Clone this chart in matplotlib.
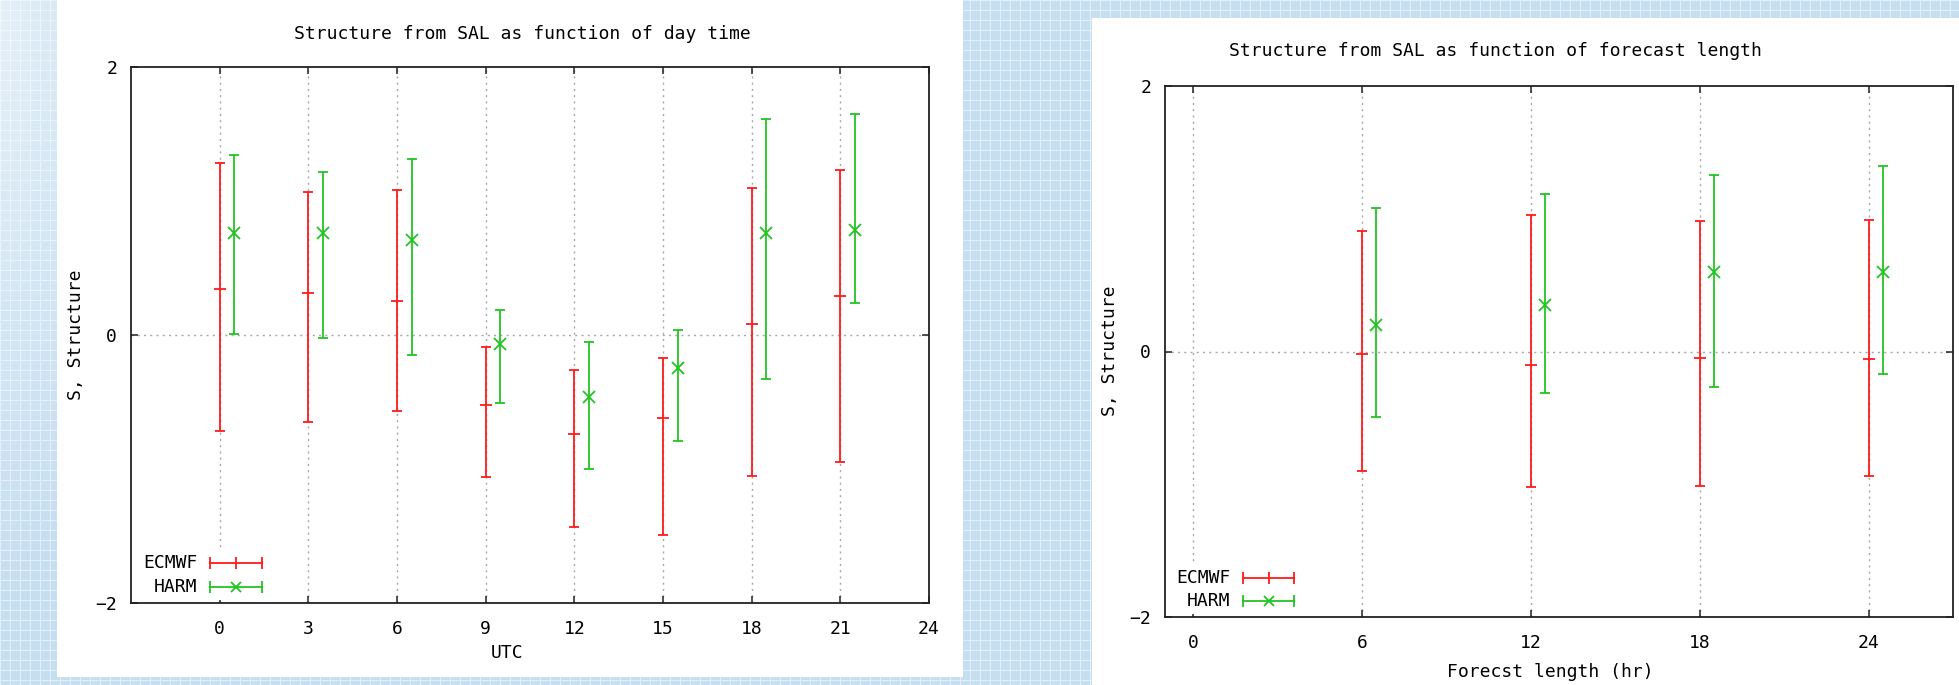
"""
Structure component of SAL: day-time and forecast-length panels
(gnuplot-style look, two white canvases on a tiled blue page)
"""

import numpy as np
import matplotlib
matplotlib.use("Agg")
import matplotlib.pyplot as plt
from matplotlib.patches import Rectangle

# =============================================================================
# DATA
# =============================================================================

utc_hours = [0, 3, 6, 9, 12, 15, 18, 21]
ecmwf_day_mean = [0.34, 0.31, 0.25, -0.52, -0.74, -0.62, 0.08, 0.29]
ecmwf_day_lo   = [-0.72, -0.65, -0.57, -1.06, -1.43, -1.49, -1.05, -0.95]
ecmwf_day_hi   = [1.28, 1.07, 1.08, -0.09, -0.26, -0.17, 1.10, 1.23]
harm_day_mean  = [0.76, 0.76, 0.71, -0.07, -0.46, -0.25, 0.76, 0.78]
harm_day_lo    = [0.01, -0.02, -0.15, -0.51, -1.00, -0.79, -0.33, 0.24]
harm_day_hi    = [1.34, 1.22, 1.31, 0.19, -0.05, 0.04, 1.61, 1.65]

lead_hours = [6, 12, 18, 24]
ecmwf_fc_mean = [-0.02, -0.10, -0.05, -0.06]
ecmwf_fc_lo   = [-0.90, -1.02, -1.01, -0.94]
ecmwf_fc_hi   = [0.91, 1.03, 0.98, 0.99]
harm_fc_mean  = [0.20, 0.35, 0.60, 0.60]
harm_fc_lo    = [-0.49, -0.31, -0.27, -0.17]
harm_fc_hi    = [1.08, 1.19, 1.33, 1.40]

day_ticks = [0, 3, 6, 9, 12, 15, 18, 21, 24]
lead_ticks = [0, 6, 12, 18, 24]
y_ticks = [-2, 0, 2]

# =============================================================================
# STYLE
# =============================================================================

W, H = 1959, 685
FONT = "DejaVu Sans Mono"
FS = 13
RED = "#ff1a1a"
GREEN = "#22c422"
GRID = "#a8a8a8"
HARM_SHIFT = 0.5   # HARM plotted half a unit right of ECMWF

plt.rcParams["font.family"] = FONT


def px(x, y):
    """pixel (from top-left) -> figure fraction"""
    return x / W, 1 - y / H


def ax_rect(x0, y0, x1, y1):
    return [x0 / W, 1 - y1 / H, (x1 - x0) / W, (y1 - y0) / H]


def draw_series(ax, x, mean, lo, hi, color, marker, ms):
    mean = np.asarray(mean)
    yerr = [mean - np.asarray(lo), np.asarray(hi) - mean]
    ax.errorbar(x, mean, yerr=yerr, fmt=marker, color=color, ecolor=color,
                elinewidth=1.3, capsize=3.5, capthick=1.3,
                markersize=ms, markeredgewidth=1.3, zorder=5)


def draw_key(ax):
    # white box hides grid under the key, like gnuplot
    ax.add_patch(Rectangle((0.008, 0.006), 0.17, 0.094, transform=ax.transAxes,
                           facecolor="white", edgecolor="none", zorder=3))
    rows = [("ECMWF", RED, "|", 0.074), ("HARM", GREEN, "x", 0.030)]
    for label, color, marker, yy in rows:
        ax.text(0.083, yy, label, transform=ax.transAxes, ha="right",
                va="center", fontsize=FS, zorder=6)
        ax.plot([0.099, 0.164], [yy, yy], transform=ax.transAxes,
                color=color, lw=1.3, zorder=6, clip_on=False)
        ax.plot([0.099, 0.164], [yy, yy], transform=ax.transAxes, ls="none",
                marker="|", ms=8, mew=1.3, color=color, zorder=6)
        ax.plot([0.1315], [yy], transform=ax.transAxes, ls="none",
                marker=marker, ms=8 if marker == "|" else 7, mew=1.3,
                color=color, zorder=6)


def style_axes(ax, xlim, xticks):
    ax.set_xlim(*xlim)
    ax.set_ylim(-2, 2)
    ax.set_xticks(xticks)
    ax.set_yticks(y_ticks)
    ax.set_yticklabels([f"{v:d}".replace("-", "\u2212") for v in y_ticks])
    ax.tick_params(direction="in", length=5, width=1.1, labelsize=FS,
                   top=True, right=True, color="#222222", pad=10)
    ax.tick_params(axis="x", pad=12)
    for s in ax.spines.values():
        s.set_linewidth(1.3)
        s.set_color("#222222")
    for t in xticks:
        ax.axvline(t, color=GRID, lw=1.0, ls=(0, (1.5, 3)), zorder=1)
    ax.axhline(0, color=GRID, lw=1.0, ls=(0, (1.5, 3)), zorder=1)
    ax.set_facecolor("white")


# =============================================================================
# FIGURE
# =============================================================================

fig = plt.figure(figsize=(W / 100, H / 100), dpi=100)

# tiled blue page background
yy, xx = np.mgrid[0:H, 0:W]
base = np.array([197, 222, 240], float) / 255
line = np.array([226, 238, 248], float) / 255
tile = ((xx % 10) == 0) | ((yy % 10) == 0)
bg = np.where(tile[..., None], line, base)
fade = np.clip(1 - np.sqrt((xx / 140.0) ** 2 + (yy / 600.0) ** 2), 0, 1) * 0.55
bg = bg * (1 - fade[..., None]) + fade[..., None]
bg_ax = fig.add_axes([0, 0, 1, 1], zorder=-10)
bg_ax.imshow(bg, aspect="auto", interpolation="nearest")
bg_ax.axis("off")

# white canvases
for x0, y0, x1, y1 in [(57, 0, 963, 677), (1092, 18, 1959, 685)]:
    fx0, fy1 = px(x0, y0)
    fx1, fy0 = px(x1, y1)
    fig.add_artist(Rectangle((fx0, fy0), fx1 - fx0, fy1 - fy0,
                             transform=fig.transFigure, facecolor="white",
                             edgecolor="none", zorder=-5))

# ---- left: day time --------------------------------------------------------
ax1 = fig.add_axes(ax_rect(131, 67, 929, 603))
style_axes(ax1, (-3, 24), day_ticks)
draw_series(ax1, utc_hours, ecmwf_day_mean, ecmwf_day_lo, ecmwf_day_hi,
            RED, "_", 9)
draw_series(ax1, np.array(utc_hours) + HARM_SHIFT, harm_day_mean,
            harm_day_lo, harm_day_hi, GREEN, "x", 8)
draw_key(ax1)

fig.text(*px(522, 34), "Structure from SAL as function of day time",
         ha="center", va="center", fontsize=FS)
fig.text(*px(507, 653), "UTC", ha="center", va="center", fontsize=FS)
fig.text(*px(76, 335), "S, Structure", ha="center", va="center",
         rotation=90, fontsize=FS)

# ---- right: forecast length ------------------------------------------------
ax2 = fig.add_axes(ax_rect(1165, 86, 1953, 617))
style_axes(ax2, (-1, 27), lead_ticks)
draw_series(ax2, lead_hours, ecmwf_fc_mean, ecmwf_fc_lo, ecmwf_fc_hi,
            RED, "_", 9)
draw_series(ax2, np.array(lead_hours) + HARM_SHIFT, harm_fc_mean,
            harm_fc_lo, harm_fc_hi, GREEN, "x", 8)
draw_key(ax2)

fig.text(*px(1495, 51), "Structure from SAL as function of forecast length",
         ha="center", va="center", fontsize=FS)
fig.text(*px(1550, 672), "Forecst length (hr)", ha="center", va="center",
         fontsize=FS)
fig.text(*px(1110, 351), "S, Structure", ha="center", va="center",
         rotation=90, fontsize=FS)

fig.savefig("out.png", dpi=100)
print("Saved: out.png")
